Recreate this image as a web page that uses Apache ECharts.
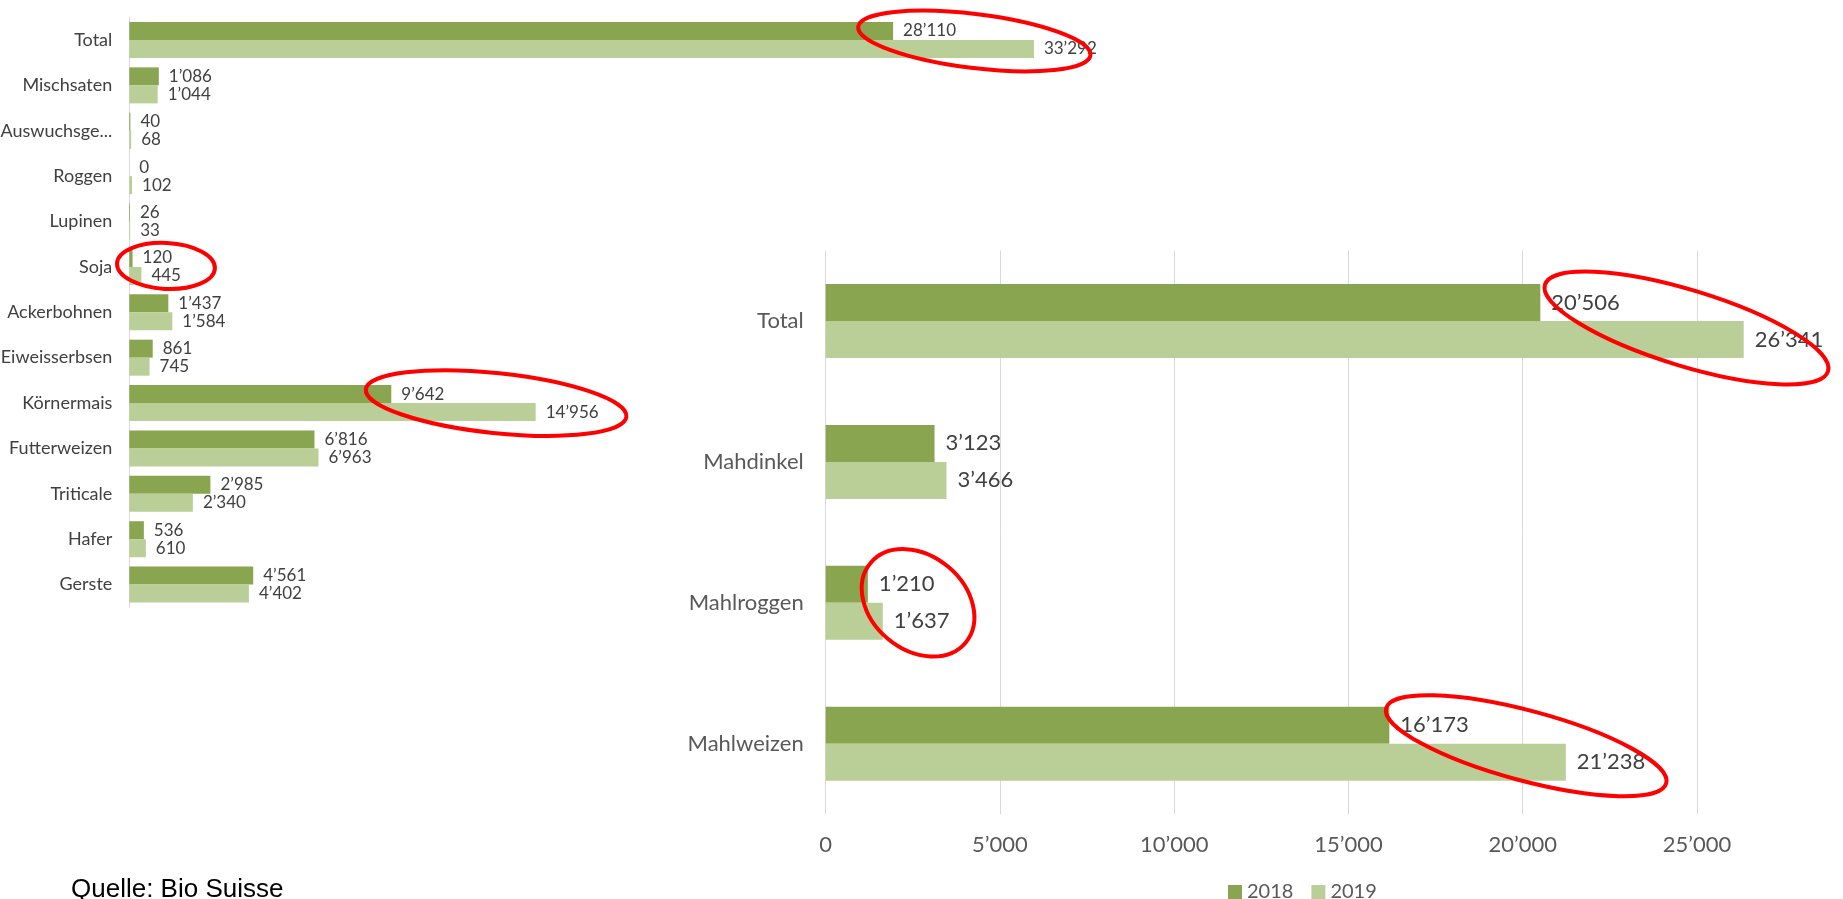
<!DOCTYPE html>
<html>
<head>
<meta charset="utf-8">
<title>Bio Suisse Futter- und Brotgetreide</title>
<script src="https://cdn.jsdelivr.net/npm/echarts@6/dist/echarts.min.js"></script>
<style>
  html, body { margin: 0; padding: 0; background: #fff; }
  #main { width: 1843px; height: 899px; }
</style>
</head>
<body>
<div id="main"></div>
<script>
// Futtergetreide / Eiweisspflanzen (links)
var leftCats = ['Total', 'Mischsaten', 'Auswuchsge...', 'Roggen', 'Lupinen', 'Soja', 'Ackerbohnen',
  'Eiweisserbsen', 'Körnermais', 'Futterweizen', 'Triticale', 'Hafer', 'Gerste']
var left2018 = [28110, 1086, 40, 0, 26, 120, 1437, 861, 9642, 6816, 2985, 536, 4561]
var left2019 = [33292, 1044, 68, 102, 33, 445, 1584, 745, 14956, 6963, 2340, 610, 4402]

// Brotgetreide (rechts)
var rightCats = ['Total', 'Mahdinkel', 'Mahlroggen', 'Mahlweizen']
var right2018 = [20506, 3123, 1210, 16173]
var right2019 = [26341, 3466, 1637, 21238]

var years = ['2018', '2019']
var rightTickStep = 5000

var dark = '#8AA54F'
var light = '#BACE98'
var font = 'Lato'

// Tausendertrennzeichen wie im Original: 1’086
function fmt (v) {
  return String(v).replace(/\B(?=(\d{3})+(?!\d))/g, '\u2019')
}

function barSeries (name, data, grid, color, width, size, dist) {
  return {
    name: name,
    type: 'bar',
    xAxisIndex: grid,
    yAxisIndex: grid,
    data: data,
    barWidth: width,
    barGap: '0%',
    itemStyle: { color: color },
    label: {
      show: true,
      position: 'right',
      distance: dist,
      color: '#404040',
      fontFamily: font,
      fontSize: size,
      formatter: function (p) { return fmt(p.value) }
    }
  }
}

var chart = echarts.init(document.getElementById('main'))
chart.setOption({
  animation: false,
  title: {
    text: 'Quelle: Bio Suisse',
    left: 71,
    top: 877,
    padding: 0,
    textStyle: { fontFamily: 'Liberation Sans', fontWeight: 'normal', fontSize: 26, color: '#000' }
  },
  legend: {
    data: years,
    left: 1228,
    top: 882,
    padding: 0,
    icon: 'rect',
    itemWidth: 14,
    itemHeight: 14,
    itemGap: 18,
    textStyle: { fontFamily: font, fontSize: 20, color: '#595959' }
  },
  grid: [
    { left: 129.3, top: 17.3, width: 951, height: 590, outerBoundsMode: 'none' },
    { left: 825.7, top: 250.5, width: 1045.5, height: 563.7, outerBoundsMode: 'none' }
  ],
  xAxis: [
    { gridIndex: 0, type: 'value', min: 0, max: 35000, show: false },
    {
      gridIndex: 1,
      type: 'value',
      min: 0,
      max: 30000,
      interval: rightTickStep,
      axisLine: { show: false },
      axisTick: { show: false },
      splitLine: { lineStyle: { color: '#D9D9D9', width: 1 } },
      axisLabel: {
        margin: 20,
        showMaxLabel: false,
        fontFamily: font,
        fontSize: 22,
        color: '#595959',
        formatter: fmt
      }
    }
  ],
  yAxis: [
    {
      gridIndex: 0,
      type: 'category',
      data: leftCats,
      inverse: true,
      axisLine: { lineStyle: { color: '#D9D9D9' } },
      axisTick: { show: false },
      axisLabel: { margin: 17, fontFamily: font, fontSize: 18, color: '#404040' }
    },
    {
      gridIndex: 1,
      type: 'category',
      data: rightCats,
      inverse: true,
      axisLine: { show: false },
      axisTick: { show: false },
      axisLabel: { margin: 22, fontFamily: font, fontSize: 22, color: '#595959' }
    }
  ],
  series: [
    barSeries(years[0], left2018, 0, dark, 18, 17, 10),
    barSeries(years[1], left2019, 0, light, 18, 17, 10),
    barSeries(years[0], right2018, 1, dark, 37, 22, 11),
    barSeries(years[1], right2019, 1, light, 37, 22, 11)
  ]
})

// rote Markierungen, an Kategorie + Wert verankert
var rings = [
  { grid: 0, cats: leftCats, cat: 'Total', at: 31100, dy: 1, rx: 117, ry: 27, turn: -7 },
  { grid: 0, cats: leftCats, cat: 'Soja', at: 1350, dy: -1, rx: 49, ry: 23, turn: -3 },
  { grid: 0, cats: leftCats, cat: 'Körnermais', at: 13500, dy: 0, rx: 131, ry: 30, turn: -6 },
  { grid: 1, cats: rightCats, cat: 'Total', at: 24700, dy: 7, rx: 148, ry: 38, turn: -17 },
  { grid: 1, cats: rightCats, cat: 'Mahlroggen', at: 2650, dy: 0, rx: 62, ry: 47, turn: -40 },
  { grid: 1, cats: rightCats, cat: 'Mahlweizen', at: 20100, dy: 2, rx: 145, ry: 35, turn: -15 }
]
var shapes = rings.map(function (r) {
  var p = chart.convertToPixel({ gridIndex: r.grid }, [r.at, r.cats.indexOf(r.cat)])
  return {
    type: 'ellipse',
    x: p[0],
    y: p[1] + r.dy,
    rotation: r.turn * Math.PI / 180,
    shape: { cx: 0, cy: 0, rx: r.rx, ry: r.ry },
    style: { fill: 'none', stroke: '#FF0000', lineWidth: 4 },
    z: 100
  }
})
chart.setOption({ graphic: shapes })
</script>
</body>
</html>
